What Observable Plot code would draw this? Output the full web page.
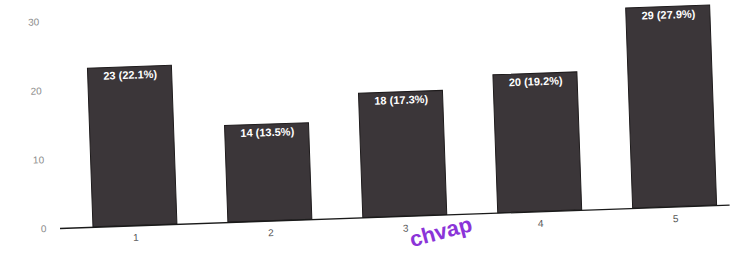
<!DOCTYPE html>
<html>
<head>
<meta charset="utf-8">
<script src="https://cdn.jsdelivr.net/npm/d3@7"></script>
<script src="https://cdn.jsdelivr.net/npm/@observablehq/plot@0.6"></script>
<style>
  html, body { margin: 0; padding: 0; background: #fff; overflow: hidden; }
  #wrap { position: relative; width: 730px; height: 253px; overflow: hidden; }
  #wrap svg { position: absolute; left: 0; top: 0; transform: rotate(-2deg); transform-origin: 60px 228px; }
  #stamp { position: absolute; left: 413px; top: 229px; font: bold 22px/22px "Liberation Sans", Arial, sans-serif;
           color: #8b34d8; transform: rotate(-15deg); transform-origin: left bottom; }
</style>
</head>
<body>
<div id="wrap"></div>
<script>
const categories = ["1", "2", "3", "4", "5"];
const counts = [23, 14, 18, 20, 29];
const percents = [22.1, 13.5, 17.3, 19.2, 27.9];
const yTicks = [0, 10, 20, 30];

const data = categories.map((c, i) => ({cat: c, n: counts[i], label: `${counts[i]} (${percents[i]}%)`}));

const chart = Plot.plot({
  width: 730,
  height: 253,
  marginTop: 21,
  marginBottom: 25,
  marginLeft: 60,
  marginRight: 0,
  style: {fontFamily: "'Liberation Sans Narrow', 'Liberation Sans', Arial, sans-serif", background: "transparent", overflow: "visible"},
  x: {domain: categories, range: [67, 743], paddingInner: 0.38, paddingOuter: 0.19, label: null},
  y: {domain: [0, 30], ticks: yTicks, label: null},
  marks: [
    Plot.barY(data, {x: "cat", y: "n", fill: "#3b3639", stroke: "#1e1b1c", strokeWidth: 1}),
    Plot.ruleY([0], {stroke: "#1a1a1a", strokeWidth: 1.3}),
    Plot.text(data, {x: "cat", y: "n", text: "label", dy: 8, fill: "#fff", fontWeight: "bold", fontSize: 11, lineAnchor: "middle"}),
    Plot.axisY({ticks: yTicks, tickSize: 0, tickPadding: 14, fill: "#8a8a8a", fontSize: 10, anchor: "left"}),
    Plot.axisX({tickSize: 0, tickPadding: 8, fill: "#555", fontSize: 10})
  ]
});
document.getElementById("wrap").appendChild(chart);
const s = document.createElement("div");
s.id = "stamp";
s.textContent = "chvap";
document.getElementById("wrap").appendChild(s);
</script>
</body>
</html>
